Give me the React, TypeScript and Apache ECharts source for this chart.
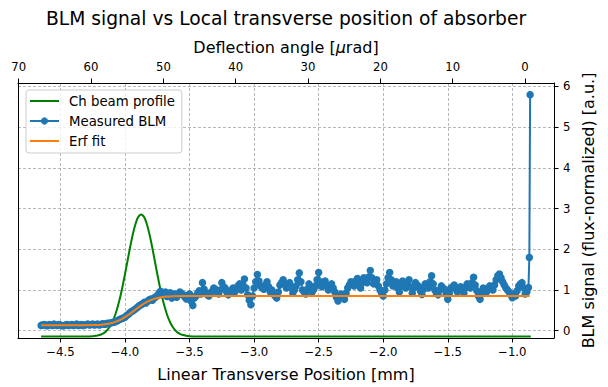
import React, { useEffect, useRef } from "react";
import * as echarts from "echarts";

// Measured BLM (flux-normalized), x in mm
const blmX = [
  -4.65, -4.6375, -4.625, -4.6125, -4.6, -4.5875, -4.575, -4.5625, -4.55, -4.5375,
  -4.525, -4.5125, -4.5, -4.4875, -4.475, -4.4625, -4.45, -4.4375, -4.425, -4.4125,
  -4.4, -4.3875, -4.375, -4.3625, -4.35, -4.3375, -4.325, -4.3125, -4.3, -4.2875,
  -4.275, -4.2625, -4.25, -4.2375, -4.225, -4.2125, -4.2, -4.1875, -4.175, -4.1625,
  -4.15, -4.1375, -4.125, -4.1125, -4.1, -4.0875, -4.075, -4.0625, -4.05, -4.0375,
  -4.025, -4.0125, -4.0, -3.9875, -3.975, -3.9625, -3.95, -3.9375, -3.925, -3.9125,
  -3.9, -3.8875, -3.875, -3.8625, -3.85, -3.8375, -3.825, -3.8125, -3.8, -3.7875,
  -3.775, -3.7625, -3.75, -3.7375, -3.725, -3.7125, -3.7, -3.6875, -3.675, -3.6625,
  -3.65, -3.6375, -3.625, -3.6125, -3.6, -3.5875, -3.575, -3.5625, -3.55, -3.5375,
  -3.525, -3.5125, -3.5, -3.4875, -3.475, -3.4625, -3.45, -3.4375, -3.425, -3.4125,
  -3.4, -3.3875, -3.375, -3.3625, -3.35, -3.3375, -3.325, -3.3125, -3.3, -3.2875,
  -3.275, -3.2625, -3.25, -3.2375, -3.225, -3.2125, -3.2, -3.1875, -3.175, -3.1625,
  -3.15, -3.1375, -3.125, -3.1125, -3.1, -3.0875, -3.075, -3.0625, -3.05, -3.0375,
  -3.025, -3.0125, -3.0, -2.9875, -2.975, -2.9625, -2.95, -2.9375, -2.925, -2.9125,
  -2.9, -2.8875, -2.875, -2.8625, -2.85, -2.8375, -2.825, -2.8125, -2.8, -2.7875,
  -2.775, -2.7625, -2.75, -2.7375, -2.725, -2.7125, -2.7, -2.6875, -2.675, -2.6625,
  -2.65, -2.6375, -2.625, -2.6125, -2.6, -2.5875, -2.575, -2.5625, -2.55, -2.5375,
  -2.525, -2.5125, -2.5, -2.4875, -2.475, -2.4625, -2.45, -2.4375, -2.425, -2.4125,
  -2.4, -2.3875, -2.375, -2.3625, -2.35, -2.3375, -2.325, -2.3125, -2.3, -2.2875,
  -2.275, -2.2625, -2.25, -2.2375, -2.225, -2.2125, -2.2, -2.1875, -2.175, -2.1625,
  -2.15, -2.1375, -2.125, -2.1125, -2.1, -2.0875, -2.075, -2.0625, -2.05, -2.0375,
  -2.025, -2.0125, -2.0, -1.9875, -1.975, -1.9625, -1.95, -1.9375, -1.925, -1.9125,
  -1.9, -1.8875, -1.875, -1.8625, -1.85, -1.8375, -1.825, -1.8125, -1.8, -1.7875,
  -1.775, -1.7625, -1.75, -1.7375, -1.725, -1.7125, -1.7, -1.6875, -1.675, -1.6625,
  -1.65, -1.6375, -1.625, -1.6125, -1.6, -1.5875, -1.575, -1.5625, -1.55, -1.5375,
  -1.525, -1.5125, -1.5, -1.4875, -1.475, -1.4625, -1.45, -1.4375, -1.425, -1.4125,
  -1.4, -1.3875, -1.375, -1.3625, -1.35, -1.3375, -1.325, -1.3125, -1.3, -1.2875,
  -1.275, -1.2625, -1.25, -1.2375, -1.225, -1.2125, -1.2, -1.1875, -1.175, -1.1625,
  -1.15, -1.1375, -1.125, -1.1125, -1.1, -1.0875, -1.075, -1.0625, -1.05, -1.0375,
  -1.025, -1.0125, -1.0, -0.9875, -0.975, -0.9625, -0.95, -0.9375, -0.925, -0.9125,
  -0.9, -0.8875, -0.875, -0.868, -0.862,
];
const blmY = [
  0.13, 0.14, 0.15, 0.13, 0.12, 0.15, 0.14, 0.13, 0.16, 0.14,
  0.13, 0.15, 0.14, 0.12, 0.12, 0.14, 0.15, 0.13, 0.14, 0.15,
  0.13, 0.14, 0.16, 0.13, 0.14, 0.15, 0.13, 0.14, 0.15, 0.16,
  0.14, 0.15, 0.16, 0.14, 0.15, 0.16, 0.14, 0.15, 0.17, 0.16,
  0.16, 0.18, 0.18, 0.19, 0.2, 0.21, 0.22, 0.24, 0.26, 0.28,
  0.3, 0.31, 0.33, 0.37, 0.4, 0.44, 0.47, 0.49, 0.52, 0.55,
  0.58, 0.62, 0.64, 0.66, 0.7, 0.68, 0.72, 0.76, 0.78, 0.75,
  0.8, 0.83, 0.86, 0.92, 0.97, 0.88, 0.9, 0.95, 0.84, 0.88,
  0.93, 0.8, 0.86, 0.9, 0.82, 0.88, 0.95, 0.91, 0.88, 0.83,
  0.78, 0.87, 0.9, 0.72, 0.62, 0.8, 0.85, 0.92, 0.98, 0.9,
  1.18, 1.02, 0.92, 0.88, 0.85, 0.93, 0.97, 1.05, 1.02, 0.95,
  0.9, 1.0, 1.18, 1.08, 1.05, 0.95, 0.88, 0.92, 1.0, 1.05,
  0.95, 1.02, 1.1, 1.15, 1.0, 1.12, 1.27, 1.05, 0.88, 0.75,
  0.64, 0.85, 1.05, 1.2, 1.38, 1.22, 1.1, 1.05, 1.02, 1.12,
  1.2, 1.08, 0.95, 1.0, 0.9, 0.85, 0.8, 0.95, 1.12, 1.18,
  1.25, 1.15, 1.05, 1.1, 1.18, 1.05, 0.92, 1.0, 1.1, 1.25,
  1.42, 1.2, 1.0, 0.95, 0.9, 1.02, 1.15, 1.08, 0.95, 1.02,
  1.1, 1.25, 1.43, 1.2, 1.08, 1.15, 1.22, 1.1, 1.0, 1.08,
  1.15, 1.05, 0.95, 0.82, 0.73, 0.8, 0.9, 0.85, 0.77, 0.92,
  1.05, 1.12, 1.2, 1.15, 1.1, 1.22, 1.28, 1.15, 1.05, 1.18,
  1.3, 1.25, 1.18, 1.32, 1.48, 1.3, 1.15, 1.2, 1.25, 1.1,
  1.0, 0.92, 0.85, 1.0, 1.15, 1.3, 1.43, 1.25, 1.1, 1.15,
  1.2, 1.05, 0.95, 1.1, 1.22, 1.12, 1.05, 1.15, 1.25, 1.08,
  0.92, 1.05, 1.18, 1.12, 1.08, 0.98, 0.89, 1.02, 1.15, 1.1,
  1.05, 1.2, 1.35, 1.15, 1.0, 0.92, 0.88, 1.0, 1.1, 1.05,
  1.02, 0.9, 0.77, 0.92, 1.05, 1.08, 1.12, 1.02, 0.95, 1.0,
  1.08, 1.0, 0.92, 1.05, 1.15, 1.1, 1.05, 1.18, 1.31, 1.12,
  0.98, 0.85, 0.77, 0.92, 1.05, 1.0, 0.95, 1.02, 1.1, 1.05,
  1.0, 1.12, 1.25, 1.35, 1.39, 1.3, 1.2, 1.12, 1.05, 1.0,
  0.95, 0.88, 0.81, 0.9, 0.85, 0.98, 1.1, 1.15, 1.18, 1.05,
  0.9, 0.95, 1.06, 1.8, 5.8,
];

// Erf fit
const fitX = [-4.65, -4.33, -4.23, -4.18, -4.13, -4.08, -4.03, -3.98, -3.93, -3.88, -3.83, -3.78, -3.73, -3.68, -3.63, -3.53, -3.43, -0.865];
const fitY = [0.135, 0.135, 0.139, 0.148, 0.169, 0.211, 0.28, 0.377, 0.493, 0.608, 0.705, 0.774, 0.816, 0.837, 0.846, 0.85, 0.85, 0.85];

// Channeled beam profile (own hidden scale)
const beamX = [-4.65, -4.3, -4.25, -4.225, -4.2, -4.175, -4.15, -4.125, -4.1, -4.075, -4.05, -4.025, -4.0, -3.975, -3.95, -3.925, -3.9, -3.875, -3.85, -3.825, -3.8, -3.775, -3.75, -3.725, -3.7, -3.675, -3.65, -3.625, -3.6, -3.575, -3.55, -3.5, -3.45, -0.857];
const beamY = [0, 0, 0.002, 0.005, 0.011, 0.021, 0.039, 0.069, 0.114, 0.18, 0.269, 0.381, 0.512, 0.651, 0.786, 0.898, 0.974, 1.0, 0.974, 0.898, 0.786, 0.651, 0.512, 0.381, 0.269, 0.18, 0.114, 0.069, 0.039, 0.021, 0.011, 0.002, 0, 0];

const FONT = "DejaVu Sans";
const GRID_COLOR = "#b0b0b0";
const TICK_FS = 11.7;

export default function App() {
  const ref = useRef<HTMLDivElement>(null);
  useEffect(() => {
    if (!ref.current) return;
    const chart = echarts.init(ref.current, undefined, { renderer: "svg" });
    const pairs = (xs: number[], ys: number[]) => xs.map((x, i) => [x, ys[i]]);
    const axisLineStyle = { show: true, onZero: false, lineStyle: { color: "#000", width: 1 } };
    const tickStyle = { show: true, length: 4.5, lineStyle: { color: "#000", width: 1 } };
    const gridLine = { show: true, lineStyle: { color: GRID_COLOR, type: [3, 2], width: 0.9 } };
    chart.setOption({
      animation: false,
      backgroundColor: "#ffffff",
      textStyle: { fontFamily: FONT },
      grid: { left: 18, top: 83, right: 54, bottom: 49, containLabel: false },
      legend: {
        orient: "vertical",
        left: 26,
        top: 90,
        padding: [4, 7, 5, 3],
        itemWidth: 29,
        itemHeight: 9,
        itemGap: 6,
        borderColor: "#cccccc",
        borderWidth: 1,
        borderRadius: 3,
        backgroundColor: "rgba(255,255,255,0.8)",
        textStyle: { fontFamily: FONT, fontSize: 13.3, lineHeight: 14, color: "#000", padding: [0, 0, 0, 5] },
        data: [
          { name: "Ch beam profile", itemStyle: { opacity: 0 } },
          { name: "Measured BLM" },
          { name: "Erf fit", itemStyle: { opacity: 0 } },
        ],
      },
      xAxis: [
        {
          type: "value",
          position: "bottom",
          min: -4.829,
          max: -0.677,
          minInterval: 0.5,
          maxInterval: 0.5,
          axisLine: axisLineStyle,
          axisTick: tickStyle,
          axisLabel: {
            showMinLabel: false,
            showMaxLabel: false,
            margin: 8,
            fontFamily: FONT,
            fontSize: TICK_FS,
            color: "#000",
            formatter: (v: number) => v.toFixed(1).replace("-", "\u2212"),
          },
          splitLine: gridLine,
        },
        {
          type: "value",
          position: "top",
          inverse: true,
          min: -4.0,
          max: 70.1,
          minInterval: 10,
          maxInterval: 10,
          axisLine: axisLineStyle,
          axisTick: tickStyle,
          axisLabel: {
            showMinLabel: false,
            showMaxLabel: false,
            margin: 10,
            fontFamily: FONT,
            fontSize: TICK_FS,
            color: "#000",
            formatter: (v: number) => String(Math.round(v)),
          },
          splitLine: { show: false },
        },
      ],
      yAxis: [
        {
          type: "value",
          position: "right",
          min: -0.18,
          max: 6.086,
          minInterval: 1,
          maxInterval: 1,
          axisLine: axisLineStyle,
          axisTick: tickStyle,
          axisLabel: {
            showMinLabel: false,
            showMaxLabel: false,
            margin: 9,
            fontFamily: FONT,
            fontSize: TICK_FS,
            color: "#000",
            formatter: (v: number) => String(Math.round(v)),
          },
          splitLine: gridLine,
        },
        {
          type: "value",
          position: "left",
          min: -0.013,
          max: 2.077,
          axisLine: axisLineStyle,
          axisTick: { show: false },
          axisLabel: { show: false },
          splitLine: { show: false },
        },
      ],
      graphic: [
        {
          type: "text",
          x: 286,
          y: 18,
          style: {
            text: "BLM signal vs Local transverse position of absorber",
            font: `18.7px "${FONT}"`,
            fill: "#000",
            textAlign: "center",
            textVerticalAlign: "middle",
          },
        },
        {
          type: "text",
          x: 286,
          y: 47,
          style: {
            text: "Deflection angle [{i|\u03bc}rad]",
            font: `16px "${FONT}"`,
            fill: "#000",
            textAlign: "center",
            textVerticalAlign: "middle",
            rich: { i: { fontStyle: "italic", fontSize: 16, fontFamily: FONT, fill: "#000" } },
          },
        },
        {
          type: "text",
          x: 286,
          y: 374,
          style: {
            text: "Linear Transverse Position [mm]",
            font: `16px "${FONT}"`,
            fill: "#000",
            textAlign: "center",
            textVerticalAlign: "middle",
          },
        },
        {
          type: "text",
          x: 588,
          y: 210.5,
          rotation: Math.PI / 2,
          style: {
            text: "BLM signal (flux-normalized) [a.u.]",
            font: `16px "${FONT}"`,
            fill: "#000",
            textAlign: "center",
            textVerticalAlign: "middle",
          },
        },
      ],
      series: [
        {
          name: "Ch beam profile",
          type: "line",
          xAxisIndex: 0,
          yAxisIndex: 1,
          data: pairs(beamX, beamY),
          symbol: "none",
          smooth: 0.3,
          lineStyle: { color: "#008000", width: 2 },
          itemStyle: { color: "#008000" },
          z: 2,
        },
        {
          name: "Measured BLM",
          type: "line",
          xAxisIndex: 0,
          yAxisIndex: 0,
          data: pairs(blmX, blmY),
          symbol: "circle",
          symbolSize: 7.5,
          showAllSymbol: true,
          lineStyle: { color: "#1f77b4", width: 2 },
          itemStyle: { color: "#1f77b4" },
          z: 3,
        },
        {
          name: "Erf fit",
          type: "line",
          xAxisIndex: 0,
          yAxisIndex: 0,
          data: pairs(fitX, fitY),
          symbol: "none",
          smooth: 0.3,
          lineStyle: { color: "#ff7f0e", width: 2 },
          itemStyle: { color: "#ff7f0e" },
          z: 4,
        },
      ],
    });
    return () => chart.dispose();
  }, []);
  return (
    <div
      ref={ref}
      style={{ position: "fixed", left: 0, top: 0, width: 608, height: 387, background: "#fff" }}
    />
  );
}
